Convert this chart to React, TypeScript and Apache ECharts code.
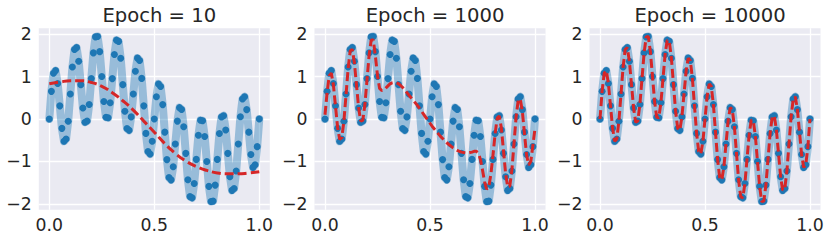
import React, { useEffect, useRef } from "react";
import * as echarts from "echarts";

const titles = ["Epoch = 10", "Epoch = 1000", "Epoch = 10000"];

const xs = [
  0, 0.01, 0.02, 0.03, 0.04, 0.05, 0.06, 0.07, 0.08, 0.09,
  0.1, 0.11, 0.12, 0.13, 0.14, 0.15, 0.16, 0.17, 0.18, 0.19,
  0.2, 0.21, 0.22, 0.23, 0.24, 0.25, 0.26, 0.27, 0.28, 0.29,
  0.3, 0.31, 0.32, 0.33, 0.34, 0.35, 0.36, 0.37, 0.38, 0.39,
  0.4, 0.41, 0.42, 0.43, 0.44, 0.45, 0.46, 0.47, 0.48, 0.49,
  0.5, 0.51, 0.52, 0.53, 0.54, 0.55, 0.56, 0.57, 0.58, 0.59,
  0.6, 0.61, 0.62, 0.63, 0.64, 0.65, 0.66, 0.67, 0.68, 0.69,
  0.7, 0.71, 0.72, 0.73, 0.74, 0.75, 0.76, 0.77, 0.78, 0.79,
  0.8, 0.81, 0.82, 0.83, 0.84, 0.85, 0.86, 0.87, 0.88, 0.89,
  0.9, 0.91, 0.92, 0.93, 0.94, 0.95, 0.96, 0.97, 0.98, 0.99, 1,
];

const yTrue = [
  0, 0.651, 1.076, 1.139, 0.837, 0.309, -0.22, -0.525, -0.469, -0.052,
  0.588, 1.225, 1.636, 1.68, 1.358, 0.809, 0.257, -0.075, -0.046, 0.342,
  0.951, 1.556, 1.933, 1.943, 1.586, 1.0, 0.41, 0.041, 0.031, 0.381,
  0.951, 1.518, 1.856, 1.827, 1.432, 0.809, 0.183, -0.222, -0.267, 0.05,
  0.588, 1.124, 1.433, 1.377, 0.956, 0.309, -0.339, -0.764, -0.826, -0.525,
  0, 0.525, 0.826, 0.764, 0.339, -0.309, -0.956, -1.377, -1.433, -1.124,
  -0.588, -0.05, 0.267, 0.222, -0.183, -0.809, -1.432, -1.827, -1.856, -1.518,
  -0.951, -0.381, -0.031, -0.041, -0.41, -1.0, -1.586, -1.943, -1.933, -1.556,
  -0.951, -0.342, 0.046, 0.075, -0.257, -0.809, -1.358, -1.68, -1.636, -1.225,
  -0.588, 0.052, 0.469, 0.525, 0.22, -0.309, -0.837, -1.139, -1.076, -0.651, 0,
];

const predX10 = [
  0, 0.05, 0.1, 0.15, 0.2, 0.25, 0.3, 0.35, 0.4, 0.45, 0.5,
  0.55, 0.6, 0.65, 0.7, 0.75, 0.8, 0.85, 0.9, 0.95, 1,
];
const pred10 = [
  0.83, 0.87, 0.9, 0.9, 0.86, 0.77, 0.62, 0.43, 0.21, -0.05, -0.31,
  -0.58, -0.81, -0.99, -1.12, -1.21, -1.27, -1.29, -1.29, -1.27, -1.24,
];

const pred1000 = [
  0.1, 0.62, 1.02, 1.08, 0.8, 0.3, -0.2, -0.48, -0.44, -0.05,
  0.56, 1.18, 1.6, 1.64, 1.32, 0.8, 0.27, -0.05, -0.03, 0.34,
  0.92, 1.5, 1.86, 1.86, 1.48, 1.02, 0.72, 0.67, 0.68, 0.73,
  0.78, 0.83, 0.85, 0.86, 0.85, 0.83, 0.79, 0.74, 0.68, 0.62,
  0.56, 0.5, 0.44, 0.38, 0.32, 0.25, 0.18, 0.11, 0.04, -0.03,
  -0.1, -0.17, -0.23, -0.29, -0.35, -0.41, -0.46, -0.51, -0.56, -0.6,
  -0.64, -0.68, -0.71, -0.74, -0.76, -0.78, -0.79, -0.8, -0.8, -0.79,
  -0.78, -0.76, -0.76, -0.8, -0.95, -1.2, -1.48, -1.65, -1.6, -1.3,
  -0.85, -0.35, 0.02, 0.07, -0.22, -0.75, -1.28, -1.6, -1.58, -1.2,
  -0.58, 0.05, 0.44, 0.47, 0.17, -0.35, -0.85, -1.08, -1.0, -0.62, -0.22,
];

const pred10000 = yTrue.slice();

const xTicks = [0, 0.5, 1];
const yTicks = [-2, -1, 0, 1, 2];

const FONT = "DejaVu Sans";
const TEXT = "#262626";
const BLUE = "#1f77b4";
const RED = "#d62728";

export default function App() {
  const ref = useRef<HTMLDivElement>(null);
  useEffect(() => {
    if (!ref.current) return;
    const chart = echarts.init(ref.current, undefined, { renderer: "svg" });
    const lefts = [38.8, 314.5, 589.5];
    const W = 231;
    const top = 28.2;
    const H = 181.6;
    const pair = (xv: number[], yv: number[]) => xv.map((x, i) => [x, yv[i]]);
    const preds = [
      { x: predX10, y: pred10, smooth: true },
      { x: xs, y: pred1000, smooth: false },
      { x: xs, y: pred10000, smooth: false },
    ];
    const grids: any[] = [];
    const xAxes: any[] = [];
    const yAxes: any[] = [];
    const series: any[] = [];
    const title: any[] = [];
    for (let i = 0; i < 3; i++) {
      grids.push({
        left: lefts[i], top, width: W, height: H,
        show: true, backgroundColor: "#EAEAF2", borderWidth: 0,
      });
      xAxes.push({
        type: "value", gridIndex: i, min: -0.05, max: 1.05,
        axisLine: { show: false },
        axisTick: { show: false, customValues: xTicks },
        axisLabel: {
          customValues: xTicks, margin: 7, color: TEXT, fontSize: 17.3, fontFamily: FONT,
          formatter: (v: number) => v.toFixed(1),
        },
        splitLine: { show: true, lineStyle: { color: "#ffffff", width: 1.3 } },
      });
      yAxes.push({
        type: "value", gridIndex: i, min: -2.1375, max: 2.1375,
        axisLine: { show: false },
        axisTick: { show: false, customValues: yTicks },
        axisLabel: {
          customValues: yTicks, margin: 7, color: TEXT, fontSize: 17.3, fontFamily: FONT,
          formatter: (v: number) => (v < 0 ? "\u2212" + Math.abs(v) : String(v)),
        },
        splitLine: { show: true, lineStyle: { color: "#ffffff", width: 1.3 } },
      });
      title.push({
        text: titles[i], left: lefts[i] + W / 2, top: 0, textAlign: "center",
        textStyle: { color: TEXT, fontSize: 19.6, fontWeight: "normal", fontFamily: FONT },
      });
      series.push({
        type: "line", xAxisIndex: i, yAxisIndex: i, data: pair(xs, yTrue),
        showSymbol: false, symbol: "none",
        lineStyle: { color: BLUE, width: 8, opacity: 0.4, cap: "round", join: "round" },
        clip: false, silent: true,
      });
      series.push({
        type: "scatter", xAxisIndex: i, yAxisIndex: i, data: pair(xs, yTrue),
        symbolSize: 7, itemStyle: { color: BLUE, opacity: 1 }, clip: false, silent: true,
      });
      series.push({
        type: "line", xAxisIndex: i, yAxisIndex: i, data: pair(preds[i].x, preds[i].y),
        showSymbol: false, symbol: "none", smooth: preds[i].smooth,
        lineStyle: { color: RED, width: 3, type: [9, 4], cap: "butt" },
        clip: false, silent: true,
      });
    }
    chart.setOption({
      animation: false,
      backgroundColor: "#ffffff",
      title,
      grid: grids,
      xAxis: xAxes,
      yAxis: yAxes,
      series,
    });
    return () => chart.dispose();
  }, []);
  return (
    <div
      ref={ref}
      style={{ position: "absolute", left: 0, top: 0, width: 831, height: 242 }}
    />
  );
}
